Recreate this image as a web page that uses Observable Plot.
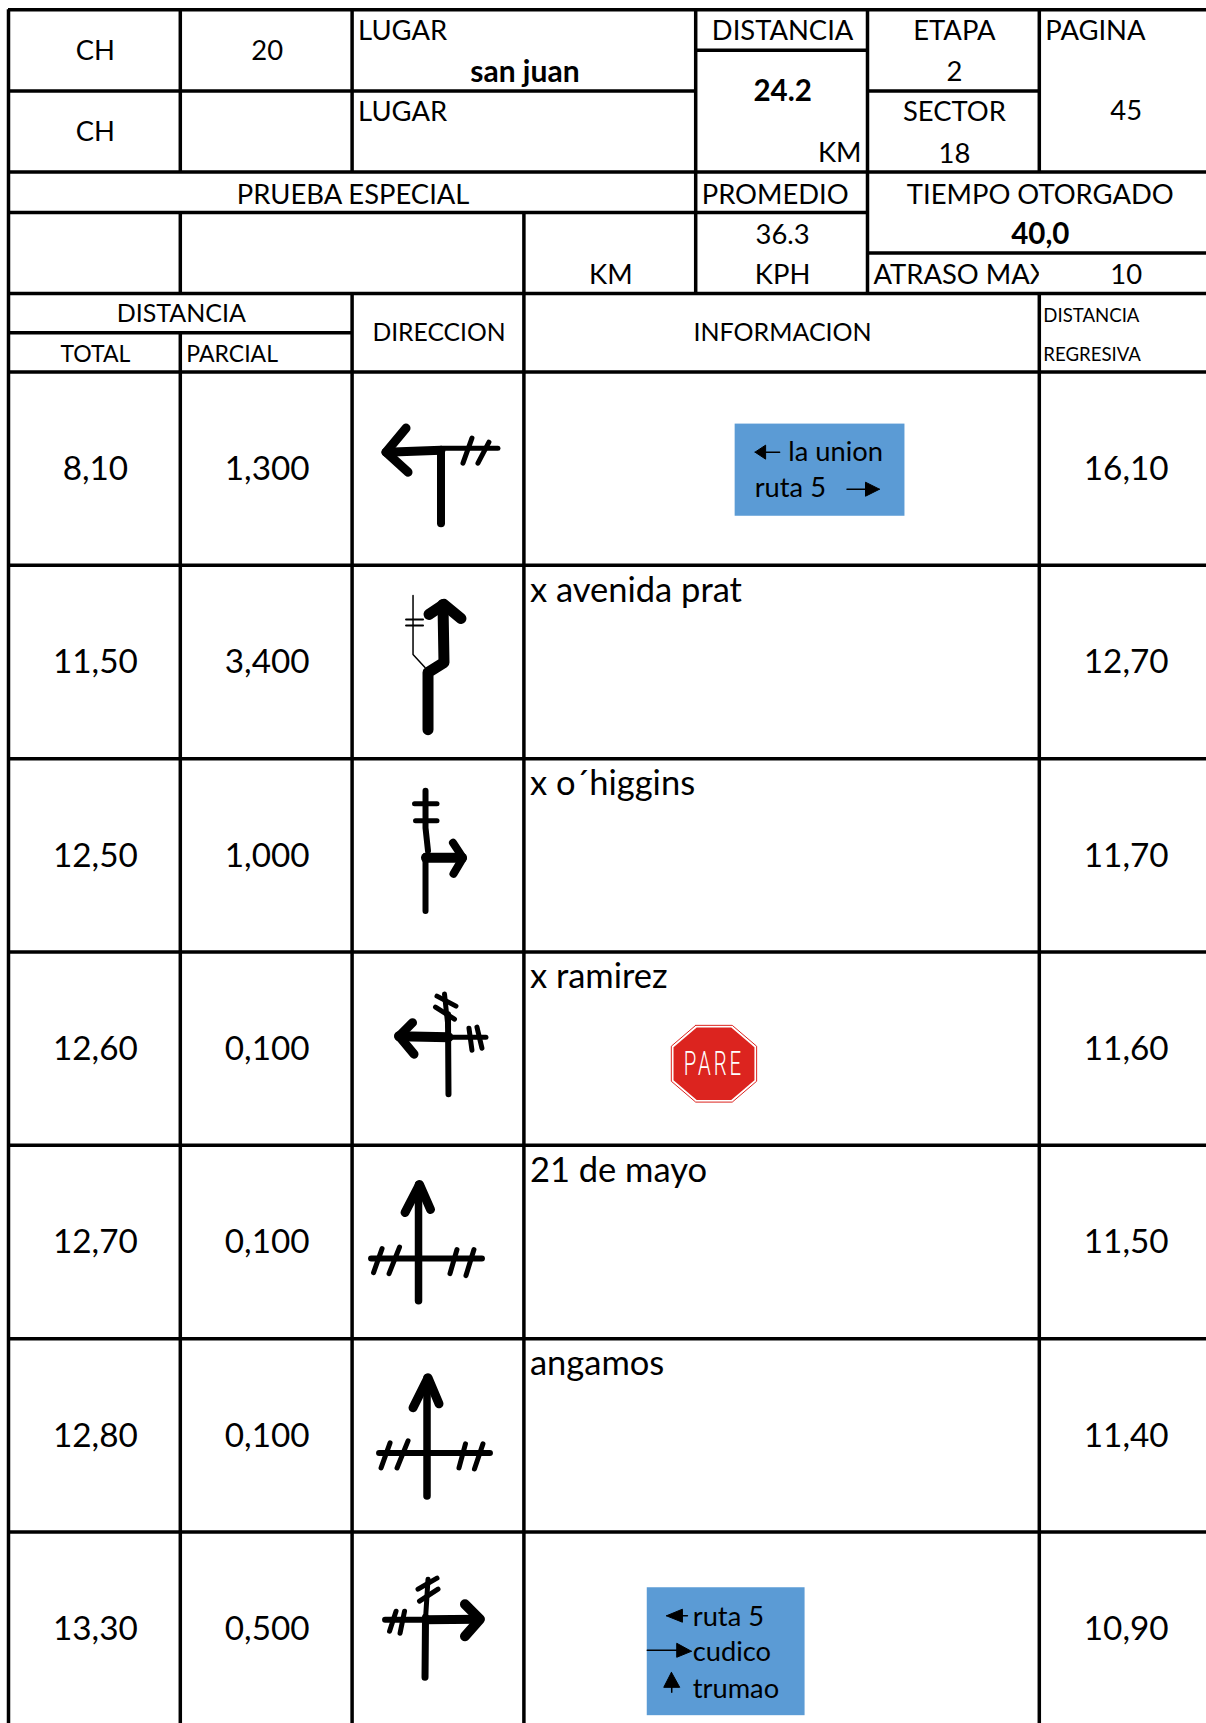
<!DOCTYPE html>
<html><head><meta charset="utf-8">
<script src="https://cdn.jsdelivr.net/npm/d3@7"></script>
<script src="https://cdn.jsdelivr.net/npm/@observablehq/plot@0.6"></script>
<style>html,body{margin:0;background:#fff}svg{display:block}</style>
</head><body><div id="c"></div>
<script>
// ---- table content ----
const totals = ["8,10","11,50","12,50","12,60","12,70","12,80","13,30"];
const parciales = ["1,300","3,400","1,000","0,100","0,100","0,100","0,500"];
const regresivas = ["16,10","12,70","11,70","11,60","11,50","11,40","10,90"];
const infos = ["","x avenida prat","x o´higgins","x ramirez","21 de mayo","angamos",""];
// [label, col, row, align, size, bold]  (col/row in table grid units)
const headerCells = [
 ["CH",.5,1,"m",27.4],["20",1.5,1,"m",27.4],["LUGAR",2,.5,"l",27.4],["san juan",3,1.515,"m",30,1],
 ["DISTANCIA",4.5,.5,"m",27.4],["ETAPA",5.5,.5,"m",27.4],["2",5.5,1.515,"m",27.4],["PAGINA",6,.5,"l",27.4],
 ["CH",.5,3,"m",27.4],["LUGAR",2,2.5,"l",27.4],["24.2",4.5,1.98,"m",29.5,1],["KM",5,3.5,"r",27.4],
 ["SECTOR",5.5,2.5,"m",27.4],["18",5.5,3.525,"m",27.4],["45",6.5,2.485,"m",27.4],
 ["PRUEBA ESPECIAL",2,4.545,"m",27.4],["PROMEDIO",4,4.545,"l",27.4],["TIEMPO OTORGADO",6,4.545,"m",27.4],
 ["36.3",4.5,5.54,"m",27.4],["40,0",6,5.515,"m",29.5,1],["KM",3.5,6.525,"m",27.4],["KPH",4.5,6.525,"m",27.4],
 ["ATRASO MAX",5,6.525,"l",27.4],
 ["DISTANCIA",1,7.485,"m",25],["TOTAL",.5,8.525,"m",23],["PARCIAL",1,8.525,"l",23],
 ["DIRECCION",2.5,7.975,"m",24.7],["INFORMACION",4.5,7.975,"m",25],
 ["DISTANCIA",6,7.54,"l",18.6],["REGRESIVA",6,8.555,"l",18.6]
];
const lastCells = [["10",6.5,6.525,"m",27.4]];
// grid rules [row, colFrom, colTo]
const hRules = [[0,0,7],[1,4,5],[2,0,4],[2,5,6],[4,0,7],[5,0,5],[6,5,7],[7,0,7],[8,0,2],[9,0,7],
 [10,0,7],[11,0,7],[12,0,7],[13,0,7],[14,0,7],[15,0,7]];
// grid rules [col, rowFrom, rowTo]
const vRules = [[0,0,16],[1,0,4],[1,5,7],[1,8,16],[2,0,4],[2,7,16],[3,5,16],[4,0,7],[5,0,7],[6,0,4],[6,7,16]];
// road-book pictograms: row, [stroke width, points in a 172×193 cell sketch]
const iconStrokes = [
 [0,[[9,[[54,56],[34,80],[56,100]]],[9,[[34,80],[89,78]]],[8,[[89,78],[89,151]]],[5,[[89,76],[146,76]]],[5,[[120,66],[111,91]]],[5,[[137,70],[126,91]]]]],
 [1,[[11,[[76,164],[76,107],[92,97],[91,39]]],[11,[[77,49],[92,39],[109,53]]],[1.5,[[61,30],[61,89],[73,102]]],[2,[[54,54],[71,54]]],[2,[[54,60],[71,60]]]]],
 [2,[[6,[[73.5,32],[73.5,69],[76,92]]],[6,[[73.5,97],[73.5,152]]],[10,[[74,99],[110,99]]],[8,[[101,84],[111,99],[101.5,115]]],[5,[[62.5,45],[85,45]]],[5,[[63.5,62],[85,62]]]]],
 [3,[[6,[[96,62],[96.5,142]]],[5,[[92.5,42],[96,75]]],[10,[[47,84],[96.5,85]]],[9,[[60.5,70.5],[47,84],[62,102]]],[5,[[96.5,85],[134,85]]],[5,[[117,76],[120,98]]],[5,[[125,75],[130,96]]],[5,[[85,44],[104,54]]],[5,[[83.5,55],[102.5,67]]]]],
 [4,[[7.5,[[66.5,39],[66.5,155]]],[9,[[53,67],[67.5,39],[78.5,64]]],[6,[[19,113],[130,113]]],[5,[[30,103],[21.5,127]]],[5,[[47.5,101.5],[37,128]]],[5,[[105,104],[98,128]]],[5,[[122,104],[114,130]]]]],
 [5,[[7.5,[[75,39],[75,157]]],[9,[[61,69],[76,39],[87,65]]],[6,[[27,114],[138,114]]],[5,[[38,104],[29,129]]],[5,[[56,102],[45,129]]],[5,[[113.5,105],[107,129]]],[5,[[131,105],[122.5,130]]]]],
 [6,[[7,[[73.5,85],[73,145]]],[5,[[76,47],[73.5,87]]],[9,[[73.5,87.6],[127,87]]],[10,[[113,72],[128,87],[113,104]]],[6,[[33,87.6],[73.5,87.6]]],[5,[[44,79],[37.5,99]]],[5,[[52.5,79],[48,101]]],[5,[[85,46],[66,57]]],[5,[[86,57],[67.5,69]]]]]
];
// direction signs in the information column: row, u1,u2,v1,v2 and lines
const signBoxes = [[0,211.5,381.5,52,144],[6,123.5,281.5,55.6,183.3]];
const signTexts = [[0,"la union",264.6,80],[0,"ruta 5",231,116],[6,"ruta 5",169,85],[6,"cudico",169,120],[6,"trumao",169,157]];
const signHeads = [
 [0,[[231.4,80],[242,73],[242,87]]],[0,[[356,117],[342,110],[342,124]]],
 [6,[[142.7,83.6],[158.7,77],[158.7,90]]],[6,[[167.7,119],[153,111],[153,125]]],[6,[[147.7,140],[140,155],[156,155]]]
];
const signShafts = [
 [0,[[242,80],[256,80]]],[0,[[323.5,117],[342,117]]],
 [6,[[158,83.6],[163.7,83.6]]],[6,[[123.5,118],[153,118]]],[6,[[148,155],[148,160]]]
];
const stopOuter = [[172,73.2],[208.6,73.2],[233,94],[233,129],[208.6,149.8],[172,149.8],[147.6,129],[147.6,94]];
const stopInner = [[173,75.4],[207.6,75.4],[230.8,95],[230.8,128],[207.6,147.6],[173,147.6],[149.8,128],[149.8,95]];
const stopLabel = "PARE";

// ---- build tables for the marks ----
const cellW = 172, cellH = 193, iconCol = 2, infoCol = 3, firstRow = 9;
const iconTable = iconStrokes.flatMap(([r,strokes]) => strokes.flatMap(([w,pts],k) =>
  pts.map(([u,v]) => ({x:iconCol+u/cellW, y:firstRow+r+v/cellH, z:`${r}-${k}`, w}))));
const polyTable = list => list.flatMap(([r,pts],k) =>
  pts.map(([u,v]) => ({x:infoCol+u/cellW, y:firstRow+r+v/cellH, z:k})));
const stopRow = 3;
const polyFrom = pts => pts.concat([pts[0]]).map(([u,v]) => ({x:infoCol+u/cellW, y:firstRow+stopRow+v/cellH}));
const FONT = "Lato";
const sizes = [...new Set(headerCells.map(d=>d[4]))];
const cellMark = (list,a,anchor,dx) => sizes.flatMap(s => [0,1].map(b =>
  Plot.text(list.filter(d => d[3]===a && d[4]===s && (!!d[5])===(b===1)), {
    x:d=>d[1], y:d=>d[2], text:d=>d[0], textAnchor:anchor, dx: (s<20 ? dx*0.67 : dx), dy:1, fontSize:s,
    fontFamily:FONT, fontWeight:b?700:400, fill:"#000", lineAnchor:"middle"})));
const bigCol = (vals,col) => Plot.text(vals, {x:()=>col, y:(d,i)=>firstRow+i+.5, text:d=>d, dx:1, dy:.5,
  fontSize:33.3, fontFamily:FONT, fill:"#000", lineAnchor:"middle"});

const chart = Plot.plot({
  width:1206, height:1723, margin:0, style:{background:"#fff"},
  x:{type:"linear", domain:[0,7], range:[8,1210.6], axis:null},
  y:{type:"linear", domain:[0,4,7,9,16], range:[9.3,171.5,293,371.5,1724.9], axis:null},
  marks:[
    ...cellMark(headerCells,"m","middle",1),
    ...cellMark(headerCells,"l","start",6),
    ...cellMark(headerCells,"r","end",-6),
    Plot.rect([[6,6.25,6.05,6.95]], {x1:d=>d[0], x2:d=>d[1], y1:d=>d[2], y2:d=>d[3], fill:"#fff"}),
    ...cellMark(lastCells,"m","middle",1),
    bigCol(totals,.5), bigCol(parciales,1.5), bigCol(regresivas,6.5),
    Plot.text(infos, {x:()=>3, y:(d,i)=>firstRow+i+.13, text:d=>d, dx:6, textAnchor:"start",
      fontSize:34.5, fontFamily:FONT, fill:"#000", lineAnchor:"middle"}),
    // grid
    Plot.ruleY(hRules, {y:d=>d[0], x1:d=>d[1], x2:d=>d[2], stroke:"#000", strokeWidth:3.5}),
    Plot.ruleX(vRules, {x:d=>d[0], y1:d=>d[1], y2:d=>d[2], stroke:"#000", strokeWidth:3.5}),
    // pictograms
    Plot.line(iconTable, {x:"x", y:"y", z:"z", strokeWidth:"w", stroke:"#000",
      strokeLinecap:"round", strokeLinejoin:"round"}),
    // blue signs
    Plot.rect(signBoxes, {x1:d=>infoCol+d[1]/cellW, x2:d=>infoCol+d[2]/cellW,
      y1:d=>firstRow+d[0]+d[3]/cellH, y2:d=>firstRow+d[0]+d[4]/cellH, fill:"#5b9bd5"}),
    Plot.text(signTexts, {x:d=>infoCol+d[2]/cellW, y:d=>firstRow+d[0]+d[3]/cellH, text:d=>d[1],
      textAnchor:"start", fontSize:27.3, fontFamily:FONT, fill:"#000", lineAnchor:"middle"}),
    Plot.line(polyTable(signShafts), {x:"x", y:"y", z:"z", stroke:"#000", strokeWidth:1.5}),
    Plot.line(polyTable(signHeads.map(([r,p])=>[r,p.concat([p[0]])])), {x:"x", y:"y", z:"z", fill:"#000", stroke:"#000", strokeWidth:1}),
    // stop sign
    Plot.line(polyFrom(stopOuter), {x:"x", y:"y", fill:"#fff", stroke:"#dc241f", strokeWidth:1}),
    Plot.line(polyFrom(stopInner), {x:"x", y:"y", fill:"#dc241f", stroke:"none"}),
    Plot.text([stopLabel], {x:()=>infoCol+190.3/cellW, y:()=>firstRow+stopRow+111.5/cellH, text:d=>d,
      fontSize:34, fontFamily:"Roboto", fontWeight:300, fill:"#fff", lineAnchor:"middle"})
  ]
});
d3.select(chart).selectAll("text").filter(function(){return this.textContent===stopLabel})
  .attr("letter-spacing","5px")
  .attr("transform", function(){return (this.getAttribute("transform")||"")+" scale(0.6,1)"});
document.getElementById("c").append(chart);
</script></body></html>
